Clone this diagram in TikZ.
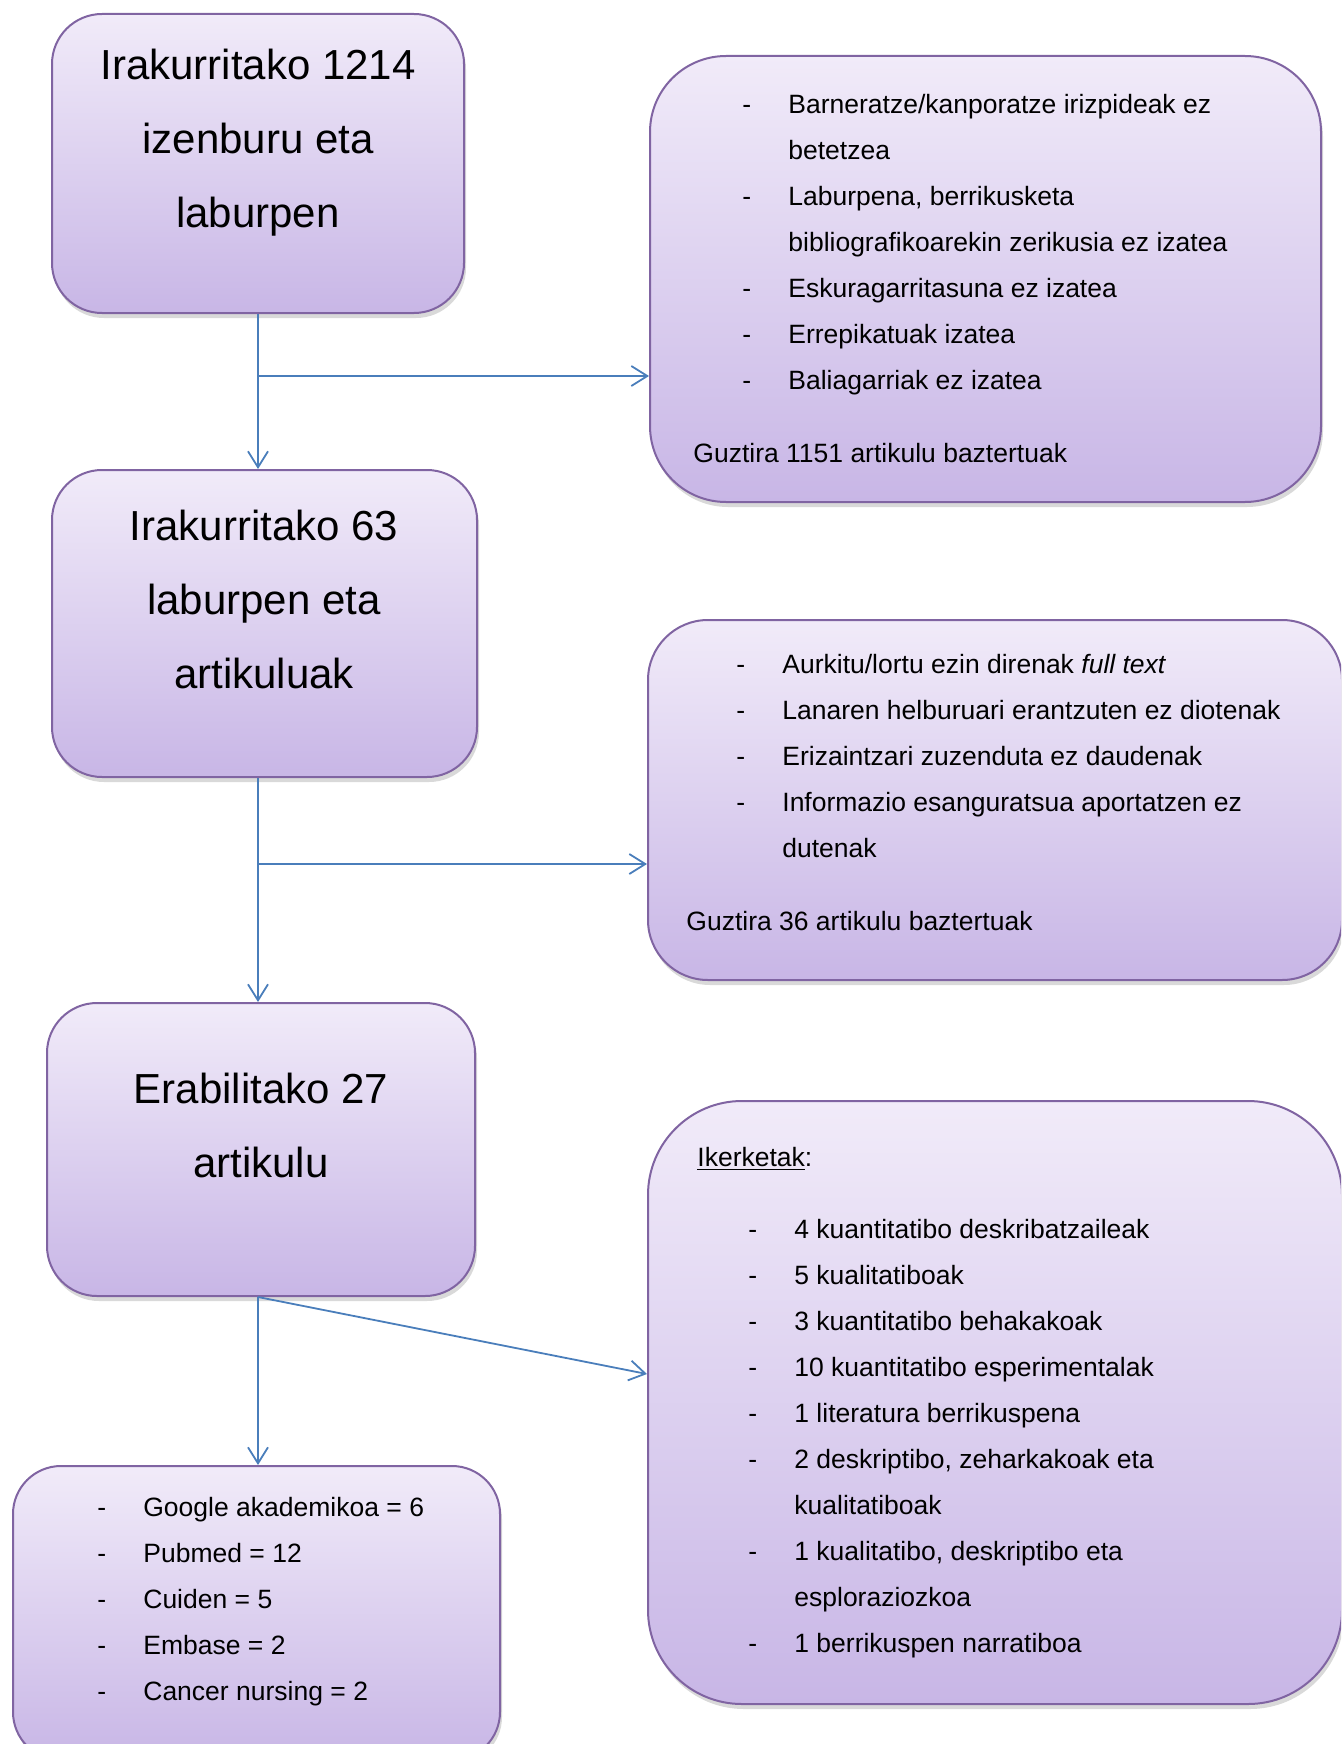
\documentclass[tikz,border=0pt]{standalone}
\usepackage{fontspec}
\setmainfont{Liberation Sans}
\usetikzlibrary{arrows.meta, shadows, fit}

\definecolor{boxtop}{RGB}{241,235,249}
\definecolor{boxbottom}{RGB}{200,182,230}
\definecolor{boxline}{RGB}{128,100,162}
\definecolor{linkblue}{RGB}{74,126,187}

\newcommand{\dashitem}{\makebox[23pt][l]{-}}
\newcommand{\dashgap}{\makebox[23pt]{}}

\begin{document}
\begin{tikzpicture}[
    x=0.5pt, y=-0.5pt,
    box/.style={draw=boxline, line width=1pt, rounded corners=#1, top color=boxtop, bottom color=boxbottom, inner sep=0pt,
        drop shadow={opacity=0.3, shadow xshift=1pt, shadow yshift=-2.5pt}},
    box/.default=25pt,
    bigtext/.style={font=\fontsize{21}{37}\selectfont, align=center, anchor=north, inner sep=0pt},
    listtext/.style={font=\fontsize{13.25}{23}\selectfont, align=left, anchor=north west, inner sep=0pt},
    sumtext/.style={font=\fontsize{13.25}{23}\selectfont, anchor=base west, inner sep=0pt},
    arrow/.style={-{Straight Barb[length=8pt, width=10pt]}, line width=0.9pt, draw=linkblue}
]
    \useasboundingbox (0,0) rectangle (1341,1744);
    \clip (0,0) rectangle (1341,1744);

    % Boxes
    \node[box, fit={(52,14) (464,313)}] (read1214) {};
    \node[box=38pt, fit={(650,56) (1321,502)}] (excl1) {};
    \node[box, fit={(52,470) (477,777)}] (read63) {};
    \node[box=30pt, fit={(648,620) (1342,980)}] (excl2) {};
    \node[box=47pt, fit={(648,1101) (1342,1704)}] (studies) {};
    \node[box, fit={(47,1003) (475,1296)}] (used27) {};
    \node[box=24pt, fit={(13,1466) (500,1760)}] (sources) {};

    % Texts
    \node[bigtext] (read1214txt) at (258,49) {Irakurritako 1214\\izenburu eta\\laburpen};
    \node[bigtext] (read63txt) at (264,510) {Irakurritako 63\\laburpen eta\\artikuluak};
    \node[bigtext] (used27txt) at (261,1073) {Erabilitako 27\\artikulu};

    \node[listtext] (excl1txt) at (742,94) {\dashitem Barneratze/kanporatze irizpideak ez\\
        \dashgap betetzea\\
        \dashitem Laburpena, berrikusketa\\
        \dashgap bibliografikoarekin zerikusia ez izatea\\
        \dashitem Eskuragarritasuna ez izatea\\
        \dashitem Errepikatuak izatea\\
        \dashitem Baliagarriak ez izatea};
    \node[sumtext] (excl1sum) at (693,462) {Guztira 1151 artikulu baztertuak};

    \node[listtext] (excl2txt) at (736,654) {\dashitem Aurkitu/lortu ezin direnak \textit{full text}\\
        \dashitem Lanaren helburuari erantzuten ez diotenak\\
        \dashitem Erizaintzari zuzenduta ez daudenak\\
        \dashitem Informazio esanguratsua aportatzen ez\\
        \dashgap dutenak};
    \node[sumtext] (excl2sum) at (686,930) {Guztira 36 artikulu baztertuak};

    \node[sumtext] (studieshead) at (697,1166) {\underline{Ikerketak}:};
    \node[listtext] (studiestxt) at (748,1219) {\dashitem 4 kuantitatibo deskribatzaileak\\
        \dashitem 5 kualitatiboak\\
        \dashitem 3 kuantitatibo behakakoak\\
        \dashitem 10 kuantitatibo esperimentalak\\
        \dashitem 1 literatura berrikuspena\\
        \dashitem 2 deskriptibo, zeharkakoak eta\\
        \dashgap kualitatiboak\\
        \dashitem 1 kualitatibo, deskriptibo eta\\
        \dashgap esploraziozkoa\\
        \dashitem 1 berrikuspen narratiboa};

    \node[listtext] (sourcestxt) at (97,1497) {\dashitem Google akademikoa = 6\\
        \dashitem Pubmed = 12\\
        \dashitem Cuiden = 5\\
        \dashitem Embase = 2\\
        \dashitem Cancer nursing = 2};

    % Connectors
    \coordinate (fork1) at ([yshift=-48.5pt]excl1.west);
    \coordinate (fork2) at ([yshift=-32pt]excl2.west);
    \draw[arrow] (read1214.south) -- (read1214.south |- read63.north);
    \draw[arrow] (read1214.south |- fork1) -- (fork1);
    \draw[arrow] (read1214.south |- read63.south) -- (read1214.south |- used27.north);
    \draw[arrow] (read1214.south |- fork2) -- (fork2);
    \draw[arrow] (read1214.south |- used27.south) -- (read1214.south |- sources.north);
    \draw[arrow] (read1214.south |- used27.south) -- ([yshift=14.25pt]studies.west);
\end{tikzpicture}
\end{document}
